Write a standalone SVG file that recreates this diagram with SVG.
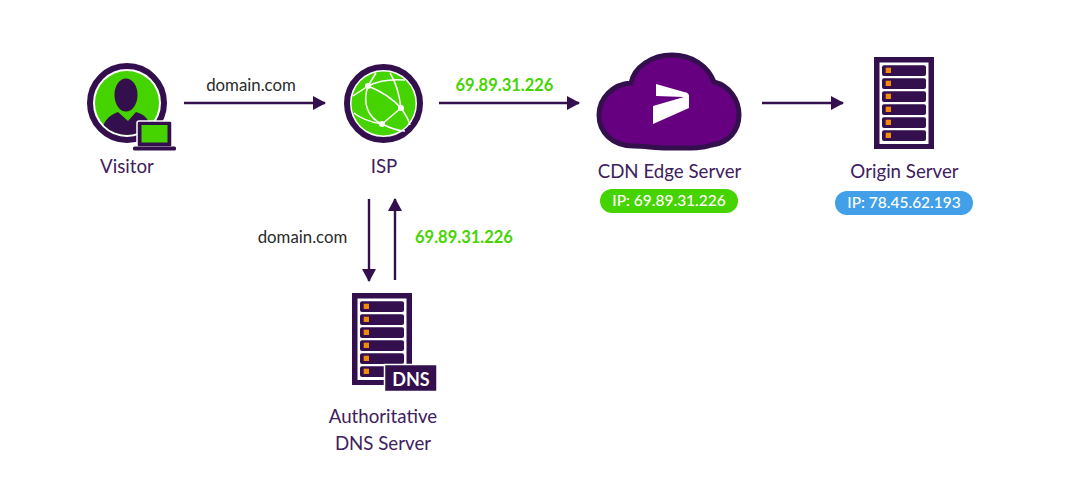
<svg xmlns="http://www.w3.org/2000/svg" xmlns:xlink="http://www.w3.org/1999/xlink" width="1070" height="503" viewBox="0 0 1070 503">
<style>
text{font-family:Lato,"Open Sans","Liberation Sans",sans-serif}
.lbl{font-size:18.700px;fill:#40205c;text-anchor:middle}
.dark{fill:#33104d}
.grn{fill:#46d400}
.org{fill:#f58a07}
.edge{stroke:#33104d;stroke-width:2.400;fill:none;marker-end:url(#arr)}
.dn{font-size:16.800px;fill:#2a2a2a}
.ip{font-size:16.500px;fill:#46d400;font-weight:700}
.pill{font-size:15.500px;fill:#fff;font-weight:500;text-anchor:middle}
</style>
<defs>
<marker id="arr" markerUnits="userSpaceOnUse" markerWidth="13" markerHeight="14" refX="12" refY="7" orient="auto"><path d="M0 0L13 7L0 14z" fill="#33104d"/></marker>
<g id="rack">
<rect x="0" y="0" width="60" height="92" class="dark"/>
<rect x="5.500" y="5.500" width="49" height="81.500" fill="#fff"/>
<rect x="8" y="8.300" width="44" height="10.700" rx="2" class="dark"/><rect x="11.700" y="10.700" width="5.300" height="5.300" class="org"/>
<rect x="8" y="21.300" width="44" height="10.700" rx="2" class="dark"/><rect x="11.700" y="23.700" width="5.300" height="5.300" class="org"/>
<rect x="8" y="34.300" width="44" height="10.700" rx="2" class="dark"/><rect x="11.700" y="36.700" width="5.300" height="5.300" class="org"/>
<rect x="8" y="47.300" width="44" height="10.700" rx="2" class="dark"/><rect x="11.700" y="49.700" width="5.300" height="5.300" class="org"/>
<rect x="8" y="60.300" width="44" height="10.700" rx="2" class="dark"/><rect x="11.700" y="62.700" width="5.300" height="5.300" class="org"/>
<rect x="8" y="73.300" width="44" height="10.700" rx="2" class="dark"/><rect x="11.700" y="75.700" width="5.300" height="5.300" class="org"/>
</g>
<clipPath id="vc"><circle cx="127" cy="103" r="32"/></clipPath>
</defs>
<rect width="1070" height="503" fill="#fff"/>
<g id="connectors">
<line class="edge" x1="184" y1="103" x2="325" y2="103"/>
<line class="edge" x1="439" y1="103" x2="579" y2="103"/>
<line class="edge" x1="762" y1="103" x2="843" y2="103"/>
<line class="edge" x1="369" y1="199" x2="369" y2="281"/>
<line class="edge" x1="395" y1="280" x2="395" y2="199"/>
<text class="dn" x="251" y="91" text-anchor="middle">domain.com</text>
<text class="ip" x="504.500" y="91" text-anchor="middle">69.89.31.226</text>
<text class="dn" x="302.500" y="243" text-anchor="middle">domain.com</text>
<text class="ip" x="464" y="243" text-anchor="middle">69.89.31.226</text>
</g>
<g id="visitor">
<circle cx="127" cy="103" r="37" fill="#fff" stroke="#33104d" stroke-width="6"/>
<circle cx="127" cy="103" r="32" class="grn"/>
<ellipse cx="126" cy="95" rx="11.500" ry="16.500" class="dark"/>
<path clip-path="url(#vc)" d="M102 132C103 120 110 115 118 112L128 121L136 112C144 114 150 119 152 132L146 140L108 140Z" class="dark"/>
<rect x="137" y="121" width="35" height="26" rx="2" class="dark" stroke="#fff" stroke-width="1.500"/>
<rect x="141.500" y="125" width="26" height="17.500" class="grn"/>
<rect x="133" y="146.500" width="43" height="4" rx="1.500" class="dark"/>
<text class="lbl" x="127" y="173">Visitor</text>
</g>
<g id="isp">
<circle cx="383.500" cy="103.500" r="36.500" fill="#fff" stroke="#33104d" stroke-width="6"/>
<circle cx="383.500" cy="103.500" r="32" class="grn"/>
<g fill="none" stroke="#fff" stroke-width="1.500">
<path d="M368 86C380 80 393 79 405 80"/>
<path d="M368 86C362 103 368 118 382 124"/>
<path d="M368 86C383 92 394 100 401 108"/>
<path d="M368 86L376 73"/>
<path d="M368 86L353 96"/>
<path d="M382 124L401 108"/>
<path d="M401 108C399 92 395 81 390 73"/>
<path d="M401 108C406 115 409 121 410 125"/>
<path d="M382 124C392 129 399 131 405 131"/>
<path d="M382 124C370 122 360 118 354 113"/>
</g>
<circle cx="368" cy="86" r="3" fill="#fff"/><circle cx="401" cy="108" r="3" fill="#fff"/><circle cx="382" cy="124" r="3" fill="#fff"/>
<text class="lbl" x="384" y="173">ISP</text>
</g>
<g id="cdn">
<path d="M631 83C634 67 652 55 672 55C692 55 708 66 714 82C730 86 739 100 739 115C739 131 728 143 712 145C700 149 688 148 668 148C655 148 645 146 634 146C612 146 599 132 599 115C599 98 613 84 631 83Z" fill="#660080" stroke="#33104d" stroke-width="5"/>
<path d="M656 84L684 92C686 92 688 93 689 95L689 108L653 124L653 106L684 97L656 96Z" fill="#fff"/>
<text class="lbl" x="669.500" y="178">CDN Edge Server</text>
<rect x="600" y="189" width="138" height="24" rx="12" class="grn"/>
<text class="pill" x="669" y="206">IP: 69.89.31.226</text>
</g>
<g id="origin">
<use xlink:href="#rack" x="874" y="57"/>
<text class="lbl" x="904.500" y="178">Origin Server</text>
<rect x="835" y="191" width="138" height="24" rx="12" fill="#42a0e8"/>
<text class="pill" x="904" y="208">IP: 78.45.62.193</text>
</g>
<g id="dns">
<use xlink:href="#rack" x="352" y="293"/>
<rect x="384.500" y="364.500" width="52.500" height="27" class="dark" stroke="#fff" stroke-width="1.500"/>
<text x="411" y="385.500" font-size="18" font-weight="700" fill="#fff" text-anchor="middle">DNS</text>
<text class="lbl" x="383" y="423">Authoritative</text>
<text class="lbl" x="383" y="450">DNS Server</text>
</g>
</svg>
